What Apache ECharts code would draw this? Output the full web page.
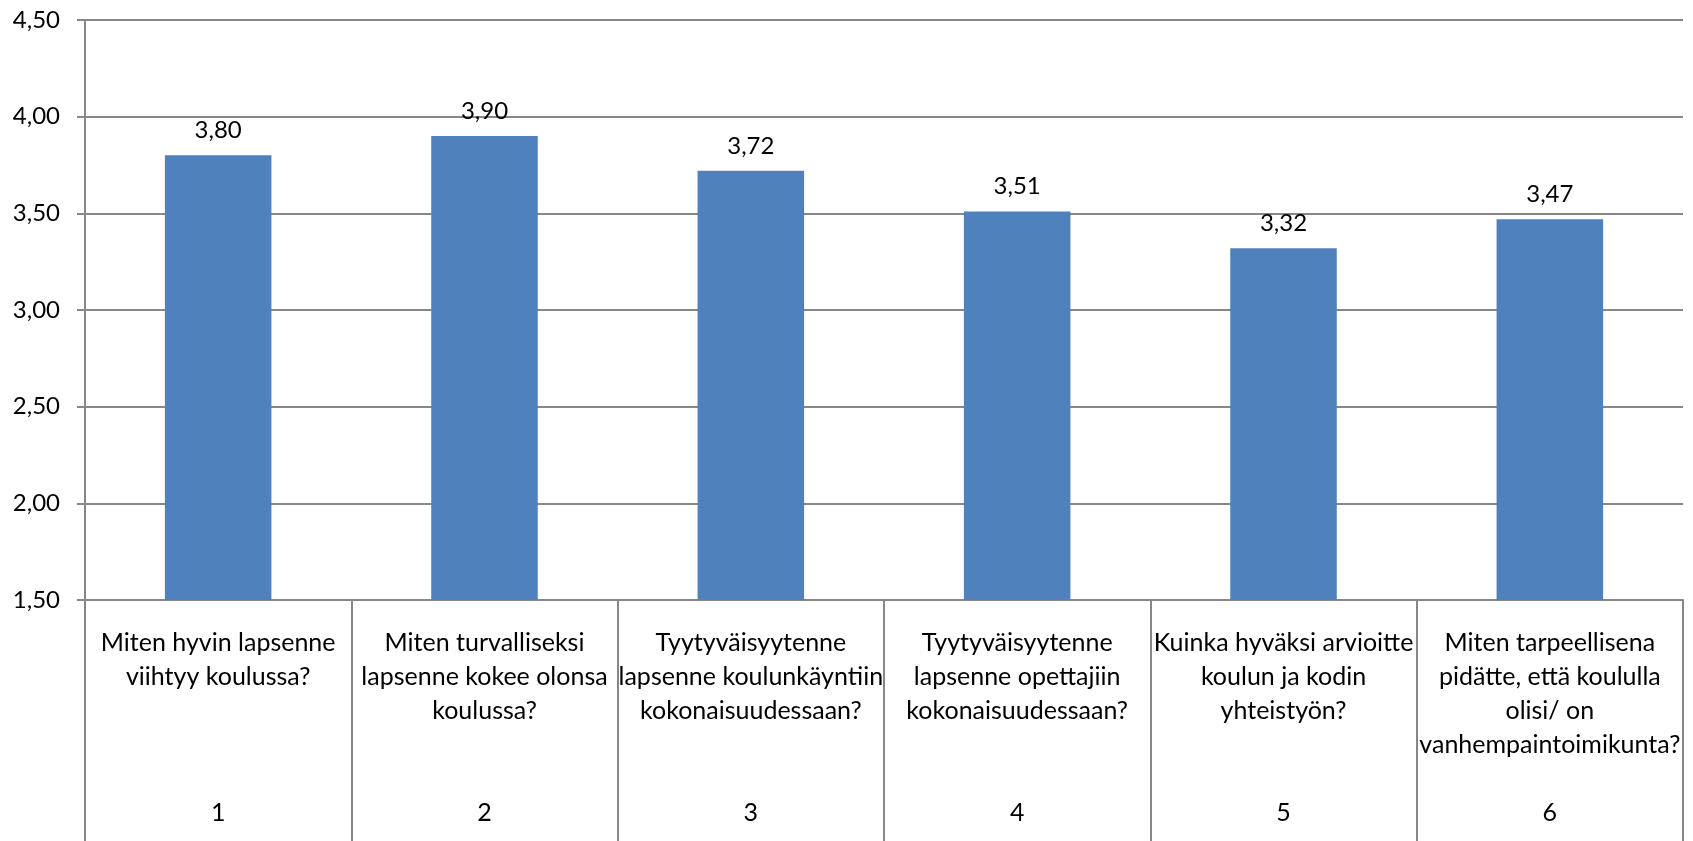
<!DOCTYPE html>
<html>
<head>
<meta charset="utf-8">
<script src="https://cdn.jsdelivr.net/npm/echarts@6/dist/echarts.min.js"></script>
<style>
html,body{margin:0;padding:0;background:#fff;}
#chart{width:1693px;height:841px;}
</style>
</head>
<body>
<div id="chart"></div>
<script>
var questions = [
  "Miten hyvin lapsenne\nviihtyy koulussa?",
  "Miten turvalliseksi\nlapsenne kokee olonsa\nkoulussa?",
  "Tyytyväisyytenne\nlapsenne koulunkäyntiin\nkokonaisuudessaan?",
  "Tyytyväisyytenne\nlapsenne opettajiin\nkokonaisuudessaan?",
  "Kuinka hyväksi arvioitte\nkoulun ja kodin\nyhteistyön?",
  "Miten tarpeellisena\npidätte, että koululla\nolisi/ on\nvanhempaintoimikunta?"
];
var numbers = ["1", "2", "3", "4", "5", "6"];
var values = [3.80, 3.90, 3.72, 3.51, 3.32, 3.47];
var yMin = 1.5, yMax = 4.5, yStep = 0.5;

var FONT = 'Lato';
function fmt(v){ return Number(v).toFixed(2).replace('.', ','); }

var chart = echarts.init(document.getElementById('chart'), null, {renderer:'canvas'});
chart.setOption({
  animation: false,
  backgroundColor: '#ffffff',
  grid: {left: 85, right: 10, top: 20, bottom: 241, containLabel: false},
  xAxis: {
    type: 'category',
    data: numbers,
    boundaryGap: true,
    axisLine: {show: true, lineStyle: {color: '#878787', width: 2}},
    axisTick: {show: true, interval: 0, length: 245, lineStyle: {color: '#878787', width: 2}},
    axisLabel: {
      interval: 0,
      margin: 26,
      verticalAlign: 'top',
      fontFamily: FONT,
      fontSize: 25,
      lineHeight: 34,
      color: '#000',
      formatter: function (val, idx) {
        var lines = questions[idx].split('\n');
        while (lines.length < 4) lines.push(' ');
        lines.push(' ');
        lines.push(val);
        return lines.join('\n');
      }
    }
  },
  yAxis: {
    type: 'value',
    min: yMin, max: yMax, interval: yStep,
    axisLine: {show: true, lineStyle: {color: '#878787', width: 2}},
    axisTick: {show: true, length: 8, lineStyle: {color: '#878787', width: 2}},
    splitLine: {show: true, lineStyle: {color: '#878787', width: 2}},
    axisLabel: {
      margin: 25,
      fontFamily: FONT,
      fontSize: 24,
      color: '#000',
      formatter: function (v) { return fmt(v); }
    }
  },
  series: [{
    type: 'bar',
    data: values,
    barWidth: '40%',
    itemStyle: {color: '#4F81BD'},
    label: {
      show: true,
      position: 'top',
      distance: 13,
      fontFamily: FONT,
      fontSize: 24,
      color: '#000',
      formatter: function (p) { return fmt(p.value); }
    }
  }]
});
</script>
</body>
</html>
